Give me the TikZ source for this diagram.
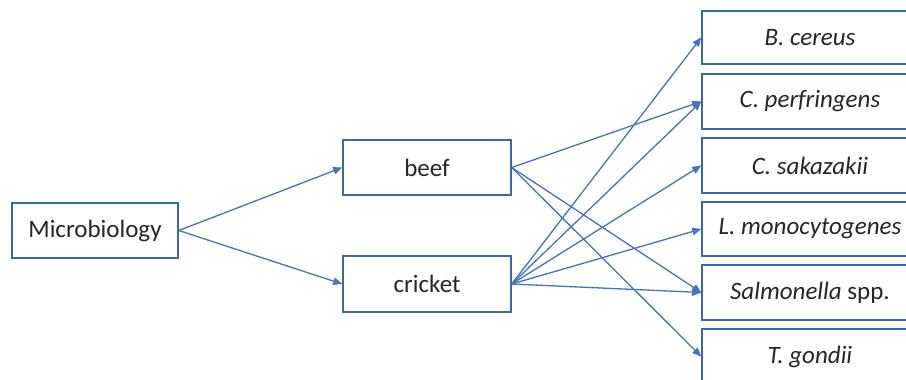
\documentclass[tikz,border=0pt]{standalone}
\usepackage{fontspec}
\setmainfont{Carlito}
\usetikzlibrary{arrows.meta}
\definecolor{lineblue}{RGB}{68,114,196}
\definecolor{boxblue}{RGB}{60,100,180}
\begin{document}
\begin{tikzpicture}[x=1pt,y=-1pt,
  box/.style={draw=boxblue,line width=1.5pt,fill=white,inner sep=0pt,
    minimum height=55pt,font=\fontsize{25}{30}\selectfont,text=black!85},
  conn/.style={draw=lineblue,line width=1.3pt,-{Triangle[length=9pt,width=7.5pt]}}]
\useasboundingbox (0,0) rectangle (906,380);
\clip (0,0) rectangle (906,380);
\fill[white] (0,0) rectangle (906,380);
\node[box,minimum width=166pt] (mic) at (95,230.5) {Microbiology};
\node[box,minimum width=168pt] (beef) at (427,167.5) {beef};
\node[box,minimum width=168pt,minimum height=56pt] (cri) at (427,284) {cricket};
\node[box,minimum width=216pt,minimum height=53pt] (bc) at (810,37.5) {\itshape B. cereus};
\node[box,minimum width=216pt] (cp) at (810,101.5) {\itshape C. perfringens};
\node[box,minimum width=216pt] (cs) at (810,165.5) {\itshape C. sakazakii};
\node[box,minimum width=216pt,minimum height=54pt] (lm) at (810,229) {\itshape L. monocytogenes};
\node[box,minimum width=216pt] (sal) at (810,292.5) {\textit{Salmonella} spp.};
\node[box,minimum width=216pt] (tg) at (810,356.5) {\itshape T. gondii};
\draw[conn] (mic.east) -- (beef.west);
\draw[conn] (mic.east) -- (cri.west);
\draw[conn] (beef.east) -- (cp.west);
\draw[conn] (beef.east) -- (sal.west);
\draw[conn] (beef.east) -- (tg.west);
\draw[conn] (cri.east) -- (bc.west);
\draw[conn] (cri.east) -- (cp.west);
\draw[conn] (cri.east) -- (cs.west);
\draw[conn] (cri.east) -- (lm.west);
\draw[conn] (cri.east) -- (sal.west);
\end{tikzpicture}
\end{document}
